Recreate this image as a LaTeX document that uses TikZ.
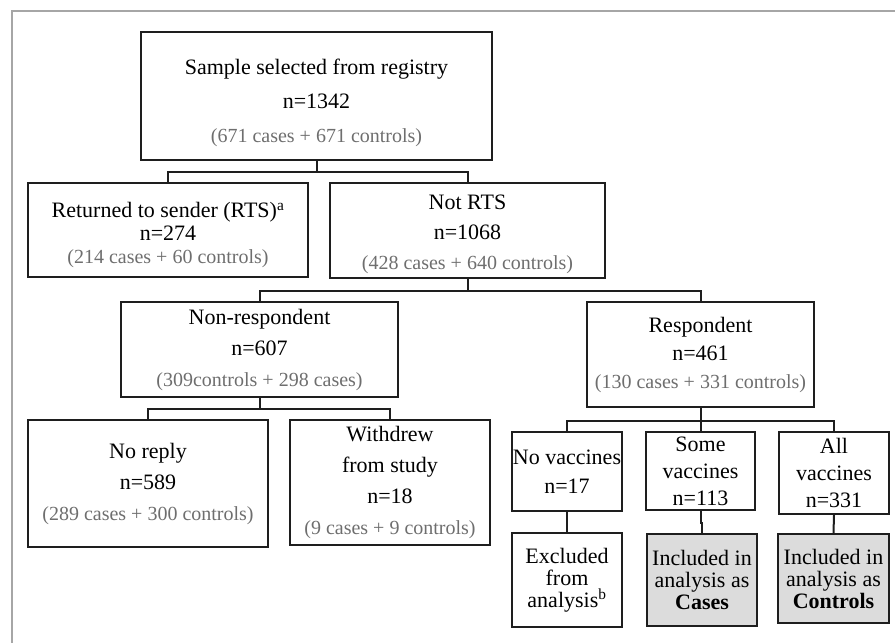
\documentclass[tikz,border=0pt]{standalone}
\usepackage{fontspec}
\setmainfont{Liberation Serif}
\definecolor{boxdark}{HTML}{1E1E1E}
\definecolor{countgray}{HTML}{6E6E6E}
\definecolor{framegray}{HTML}{A6A6A6}
\definecolor{keptfill}{HTML}{DCDCDC}
\newcommand{\tally}[1]{{\color{countgray}\fontsize{20}{20}\selectfont #1}}
\newcommand{\topgap}[1]{\rule{0pt}{#1}}

\begin{document}
\begin{tikzpicture}[x=1pt, y=-1pt,
  box/.style={draw=boxdark, line width=2pt, align=center, inner sep=0pt,
    font=\fontsize{22}{#1}\selectfont},
  box/.default=31,
  kept/.style={box=#1, fill=keptfill},
  link/.style={draw=boxdark, line width=2pt}
]
  \useasboundingbox (0,0) rectangle (895,643);
  % Frame
  \draw[framegray, line width=1.5pt] (12,643) -- (12,11) -- (895,11);

  % Registry sample
  \node[box=34, minimum width=351pt, minimum height=128pt] (sample) at (316.5,96)
    {\topgap{30pt}Sample selected from registry\\ n=1342\\ \tally{(671 cases + 671 controls)}};

  % Mail outcome
  \node[box=23, minimum width=280pt, minimum height=94pt] (rts) at (168,230)
    {\topgap{26pt}Returned to sender (RTS)\textsuperscript{a}\\ n=274\\ \tally{(214 cases + 60 controls)}};
  \node[box=30, minimum width=275pt, minimum height=95pt] (notrts) at (467.5,230.5)
    {\topgap{22pt}Not RTS\\ n=1068\\ \tally{(428 cases + 640 controls)}};

  % Response
  \node[box=31, minimum width=277pt, minimum height=95pt] (nonresp) at (259.5,349.5)
    {Non-respondent\\ n=607\\ \tally{(309controls + 298 cases)}};
  \node[box=28, minimum width=227pt, minimum height=105pt] (resp) at (700.5,354.5)
    {Respondent\\ n=461\\ \tally{(130 cases + 331 controls)}};

  % Non-respondents
  \node[box=31, minimum width=240pt, minimum height=127pt] (noreply) at (148,483.5)
    {No reply\\ n=589\\ \tally{(289 cases + 300 controls)}};
  \node[box=31, minimum width=200pt, minimum height=125pt] (withdrew) at (390,482.5)
    {Withdrew\\ from study\\ n=18\\ \tally{(9 cases + 9 controls)}};

  % Vaccination status
  \node[box=29, minimum width=110pt, minimum height=79pt] (novacc) at (567,471.5)
    {No vaccines\\ n=17};
  \node[box=27, minimum width=109pt, minimum height=78pt] (somevacc) at (700.5,471)
    {Some\\ vaccines\\ n=113};
  \node[box=27, minimum width=110pt, minimum height=82pt] (allvacc) at (834,473)
    {All\\ vaccines\\ n=331};

  % Analysis
  \node[box=22, minimum width=110pt, minimum height=94pt] (excluded) at (567,580)
    {Excluded\\ from\\ analysis\textsuperscript{b}};
  \node[kept=22, minimum width=110pt, minimum height=92pt] (cases) at (702,580)
    {Included in\\ analysis as\\ \textbf{Cases}};
  \node[kept=22, minimum width=111pt, minimum height=89pt] (controls) at (833.5,578.5)
    {Included in\\ analysis as\\ \textbf{Controls}};

  % Connectors
  \draw[link] (sample.south) -- ++(0,11) coordinate (split1) -| (rts.north);
  \draw[link] (split1) -| (notrts.north);
  \draw[link] (notrts.south) -- ++(0,12) coordinate (split2) -| (nonresp.north);
  \draw[link] (split2) -| (resp.north);
  \draw[link] (nonresp.south) -- ++(0,11) coordinate (split3) -| (noreply.north);
  \draw[link] (split3) -| (withdrew.north);
  \draw[link] (resp.south) -- ++(0,13) coordinate (split4) -| (novacc.north);
  \draw[link] (split4) -- (somevacc.north);
  \draw[link] (split4) -| (allvacc.north);
  \draw[link] (novacc.south) -- (excluded.north);
  \draw[link] (somevacc.south) -- ++(0,12) -| (cases.north);
  \draw[link] (allvacc.south) -- (controls.north);
\end{tikzpicture}
\end{document}
